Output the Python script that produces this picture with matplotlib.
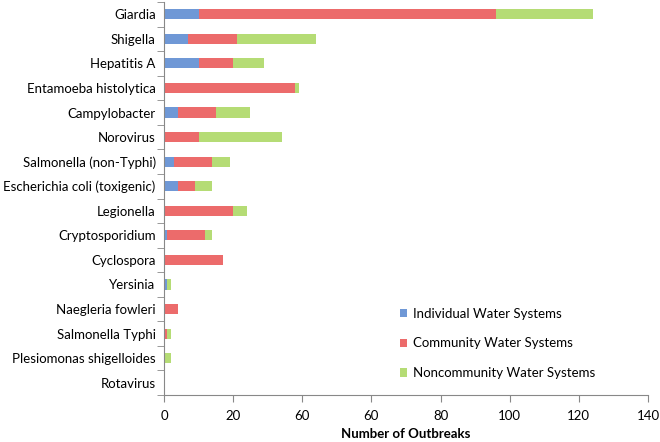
import numpy as np
import matplotlib.pyplot as plt

plt.rcParams['font.family'] = ['Lato', 'DejaVu Sans']

# pathogens, top to bottom
pathogens = ["Giardia", "Shigella", "Hepatitis A", "Entamoeba histolytica",
             "Campylobacter", "Norovirus", "Salmonella (non-Typhi)",
             "Escherichia coli (toxigenic)", "Legionella", "Cryptosporidium",
             "Cyclospora", "Yersinia", "Naegleria fowleri", "Salmonella Typhi",
             "Plesiomonas shigelloides", "Rotavirus"]
individual = [10, 7, 10, 0, 4, 0, 3, 4, 0, 1, 0, 1, 0, 0, 0, 0]
community = [86, 14, 10, 38, 11, 10, 11, 5, 20, 11, 17, 0, 4, 1, 0, 0]
noncommunity = [28, 23, 9, 1, 10, 24, 5, 5, 4, 2, 0, 1, 0, 1, 2, 0]
series_names = ["Individual Water Systems", "Community Water Systems",
                "Noncommunity Water Systems"]
colors = ["#6f98d6", "#ec6b6b", "#b5dc75"]
xtick_vals = [0, 20, 40, 60, 80, 100, 120, 140]
xtick_labels = ["0", "20", "60", "60", "80", "100", "120", "140"]  # as printed

fig = plt.figure(figsize=(6.6, 4.42), dpi=100)
ax = fig.add_axes([164/660, 1 - 395/442, 484/660, 393/442])

y = np.arange(len(pathogens))
left = np.zeros(len(pathogens))
for name, vals, c in zip(series_names, [individual, community, noncommunity], colors):
    ax.barh(y, vals, left=left, height=0.41, color=c, label=name)
    left += np.array(vals)

ax.set_ylim(len(pathogens) - 0.5, -0.5)
ax.set_xlim(0, 140)
ax.set_yticks(y)
ax.set_yticklabels(pathogens, fontsize=9.5)
ax.set_yticks(np.arange(-0.5, len(pathogens)), minor=True)
ax.tick_params(axis='y', which='major', length=0, pad=6)
ax.tick_params(axis='y', which='minor', length=5, color='#888888')
ax.set_xticks(xtick_vals)
ax.set_xticklabels(xtick_labels, fontsize=9.5)
ax.tick_params(axis='x', length=5, color='#888888', pad=6)
ax.set_xlabel("Number of Outbreaks", fontsize=9.5, fontweight='bold', labelpad=4)

for s in ['top', 'right']:
    ax.spines[s].set_visible(False)
for s in ['left', 'bottom']:
    ax.spines[s].set_color('#888888')

ax.legend(loc='lower right', bbox_to_anchor=(0.915, 0.01), frameon=False,
          fontsize=9.5, handlelength=0.6, handleheight=0.6, labelspacing=1.35,
          handletextpad=0.4)

plt.savefig("out.png", dpi=100)
